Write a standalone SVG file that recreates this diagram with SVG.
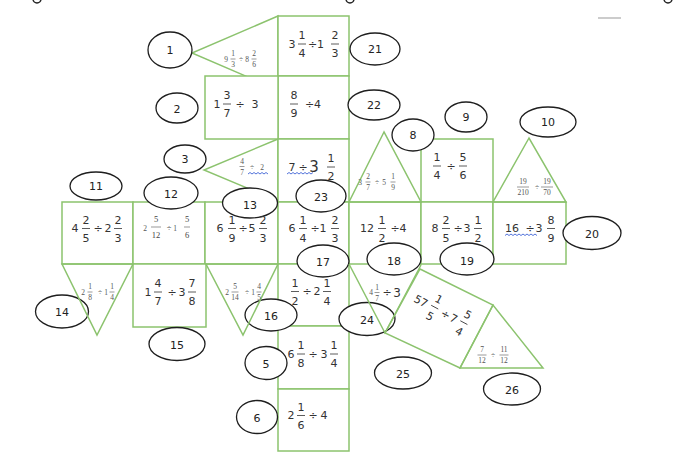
<svg xmlns="http://www.w3.org/2000/svg" width="690" height="467" viewBox="0 0 690 467">
<style>
.sh{fill:none;stroke:#8cc36e;stroke-width:1.5}
.bx{fill:#fff;stroke:#8cc36e;stroke-width:1.5}
.el{fill:#fff;stroke:#1e1e1e;stroke-width:1.3}
.eln{fill:none;stroke:#1e1e1e;stroke-width:1.3}
.lt{font-family:"DejaVu Sans",Verdana,sans-serif;font-size:11px;fill:#222;text-anchor:middle}
.m{font-family:"DejaVu Sans",Verdana,sans-serif;font-size:11px;fill:#333;text-anchor:middle}
.s{font-family:"Liberation Serif","DejaVu Serif",serif;font-size:7.5px;fill:#555;text-anchor:middle}
.s8{font-family:"Liberation Serif","DejaVu Serif",serif;font-size:8.5px;fill:#444;text-anchor:middle}
.b{stroke:#333;stroke-width:0.8}
.bs{stroke:#555;stroke-width:0.6}
.wv{fill:none;stroke:#3f63d6;stroke-width:0.9}
</style>

<!-- page decorations -->
<g id="handles" fill="none" stroke="#222" stroke-width="1.4">
<circle cx="37" cy="-1" r="4"/>
<circle cx="350" cy="-1" r="4"/>
<circle cx="668" cy="-1" r="4"/>
<line x1="598" y1="18" x2="621" y2="18" stroke="#aaa" stroke-width="1.2"/>
</g>

<!-- triangles behind boxes -->
<g id="tri1"><polygon class="sh" points="278,16 192,53 278,90"/></g>
<g id="tri3"><polygon class="sh" points="278,139 204,170 278,201"/></g>

<!-- boxes -->
<g id="box21"><rect class="bx" x="278" y="16" width="71" height="60"/></g>
<g id="box22"><rect class="bx" x="278" y="76" width="71" height="63"/></g>
<g id="box2"><rect class="bx" x="205" y="76" width="73" height="63"/></g>
<g id="box23"><rect class="bx" x="278" y="139" width="71" height="63"/></g>
<g id="box9"><rect class="bx" x="421" y="139" width="72" height="63"/></g>
<g id="box11"><rect class="bx" x="62" y="202" width="71" height="62"/></g>
<g id="box12"><rect class="bx" x="133" y="202" width="72" height="62"/></g>
<g id="box13"><rect class="bx" x="205" y="202" width="73" height="62"/></g>
<g id="box17top"><rect class="bx" x="278" y="202" width="71" height="62"/></g>
<g id="box18"><rect class="bx" x="349" y="202" width="72" height="62"/></g>
<g id="box19"><rect class="bx" x="421" y="202" width="72" height="62"/></g>
<g id="box20"><rect class="bx" x="493" y="202" width="73" height="62"/></g>
<g id="box15"><rect class="bx" x="133" y="264" width="73" height="63"/></g>
<g id="box17"><rect class="bx" x="278" y="264" width="71" height="62"/></g>
<g id="box5"><rect class="bx" x="278" y="326" width="71" height="63"/></g>
<g id="box6"><rect class="bx" x="278" y="389" width="71" height="62"/></g>

<!-- label ellipses (opaque) -->
<g id="lab1"><ellipse class="el" cx="170" cy="50" rx="22" ry="18"/><text class="lt" x="170" y="54">1</text></g>
<g id="lab2"><ellipse class="el" cx="177" cy="108" rx="21" ry="15"/><text class="lt" x="177" y="113">2</text></g>
<g id="lab3"><ellipse class="el" cx="185" cy="159" rx="21" ry="14"/><text class="lt" x="185" y="163">3</text></g>
<g id="lab5"><ellipse class="el" cx="266" cy="363" rx="21" ry="16.5"/><text class="lt" x="266" y="368">5</text></g>
<g id="lab6"><ellipse class="el" cx="257" cy="417" rx="20.5" ry="16.5"/><text class="lt" x="257" y="422">6</text></g>
<g id="lab8"><ellipse class="el" cx="413" cy="135" rx="21" ry="16"/><text class="lt" x="413" y="139">8</text></g>
<g id="lab9"><ellipse class="el" cx="466" cy="117" rx="21" ry="15"/><text class="lt" x="466" y="121">9</text></g>
<g id="lab10"><ellipse class="el" cx="548" cy="122" rx="28" ry="15"/><text class="lt" x="548" y="126">10</text></g>
<g id="lab11"><ellipse class="el" cx="96" cy="186" rx="26" ry="14"/><text class="lt" x="96" y="190">11</text></g>
<g id="lab12"><ellipse class="el" cx="171" cy="193" rx="27" ry="16"/><text class="lt" x="171" y="198">12</text></g>
<g id="lab13"><ellipse class="el" cx="250" cy="203" rx="27.5" ry="15"/><text class="lt" x="250" y="209">13</text></g>
<g id="lab15"><ellipse class="el" cx="177" cy="344" rx="28" ry="16.5"/><text class="lt" x="177" y="349">15</text></g>
<g id="lab17"><ellipse class="el" cx="323" cy="261" rx="26" ry="16"/><text class="lt" x="323" y="266">17</text></g>
<g id="lab18"><ellipse class="el" cx="394" cy="259" rx="27" ry="16"/><text class="lt" x="394" y="265">18</text></g>
<g id="lab19"><ellipse class="el" cx="467" cy="259" rx="27" ry="16"/><text class="lt" x="467" y="265">19</text></g>
<g id="lab20"><ellipse class="el" cx="592" cy="233" rx="29" ry="16.5"/><text class="lt" x="592" y="238">20</text></g>
<g id="lab21"><ellipse class="el" cx="375" cy="49" rx="25" ry="16"/><text class="lt" x="375" y="53">21</text></g>
<g id="lab22"><ellipse class="el" cx="374" cy="105" rx="26" ry="15"/><text class="lt" x="374" y="109">22</text></g>
<g id="lab23"><ellipse class="el" cx="321" cy="196" rx="25" ry="16"/><text class="lt" x="321" y="201">23</text></g>
<g id="lab25"><ellipse class="el" cx="403" cy="373" rx="28.5" ry="16"/><text class="lt" x="403" y="378">25</text></g>
<g id="lab26"><ellipse class="el" cx="512" cy="389" rx="28.5" ry="16"/><text class="lt" x="512" y="394">26</text></g>
<g id="lab14"><ellipse class="el" cx="62" cy="311.5" rx="26.5" ry="16.5"/><text class="lt" x="62" y="316">14</text></g>
<g id="lab16"><ellipse class="el" cx="271" cy="315" rx="26" ry="16"/><text class="lt" x="271" y="320">16</text></g>
<g id="lab24"><ellipse class="el" cx="367" cy="319" rx="28" ry="16.5"/><text class="lt" x="367" y="324">24</text></g>

<!-- front shapes -->
<g id="tri8"><polygon class="sh" points="384,132 349,202 421,202"/></g>
<g id="tri10"><polygon class="sh" points="529,138 493,202 566,202"/></g>
<g id="tri14"><polygon class="sh" points="62,264 133,264 97,335"/></g>
<g id="tri16"><polygon class="sh" points="206,264 278,264 243,335"/></g>
<g id="tri24"><polyline class="sh" points="349,264 385,333 421,265"/></g>
<g id="para25"><polygon class="sh" points="420,269 493,305 460,368 385,333"/></g>
<g id="tri26"><polygon class="sh" points="493,305 460,368 543,368"/></g>

<!-- expressions -->
<g id="t1">
<text class="s" x="226" y="61.5">9</text>
<text class="s" x="233" y="56">1</text><line class="bs" x1="230.5" y1="59" x2="235.5" y2="59"/><text class="s" x="233" y="67">3</text>
<text class="s" x="241" y="61.5">÷</text><text class="s" x="247" y="61.5">8</text>
<text class="s" x="254" y="56">2</text><line class="bs" x1="251.5" y1="59" x2="256.5" y2="59"/><text class="s" x="254" y="67">6</text>
</g>
<g id="t21">
<text class="m" x="292" y="47.5">3</text>
<text class="m" x="302" y="39">1</text><line class="b" x1="298" y1="44" x2="306" y2="44"/><text class="m" x="302" y="57">4</text>
<text class="m" x="316" y="47.5">÷1</text>
<text class="m" x="335" y="39">2</text><line class="b" x1="331" y1="44" x2="339" y2="44"/><text class="m" x="335" y="57">3</text>
</g>
<g id="t2">
<text class="m" x="217" y="107.5">1</text>
<text class="m" x="227" y="99">3</text><line class="b" x1="223" y1="104" x2="231" y2="104"/><text class="m" x="227" y="117">7</text>
<text class="m" x="240" y="107.5">÷</text><text class="m" x="255" y="107.5">3</text>
</g>
<g id="t22">
<text class="m" x="294" y="99">8</text><line class="b" x1="290" y1="104" x2="298" y2="104"/><text class="m" x="294" y="117">9</text>
<text class="m" x="313" y="107.5">÷4</text>
</g>
<g id="t3">
<text class="s" x="242" y="163.5">4</text><line class="bs" x1="239.5" y1="166.5" x2="244.5" y2="166.5"/><text class="s" x="242" y="174.5">7</text>
<text class="s" x="252" y="169.5">÷</text><text class="s" x="262" y="169.5">2</text>
<path class="wv" d="M248,174 l2,-1.5 l2,1.5 l2,-1.5 l2,1.5 l2,-1.5 l2,1.5 l2,-1.5 l2,1.5 l2,-1.5 l2,1.5"/>
</g>
<g id="t23">
<text class="m" x="292" y="171">7</text>
<text class="m" x="303" y="171">÷</text>
<text class="m" x="314" y="172" style="font-size:15px">3</text>
<text class="m" x="331" y="162">1</text><line class="b" x1="327" y1="167" x2="335" y2="167"/><text class="m" x="331" y="180">2</text>
<path class="wv" d="M287,174 l2,-1.5 l2,1.5 l2,-1.5 l2,1.5 l2,-1.5 l2,1.5 l2,-1.5 l2,1.5 l2,-1.5 l2,1.5 l2,-1.5 l2,1.5 l2,-1.5"/>
</g>
<g id="t8">
<text class="s" x="360" y="184.5">3</text>
<text class="s" x="368" y="179">2</text><line class="bs" x1="365.5" y1="182" x2="370.5" y2="182"/><text class="s" x="368" y="190">7</text>
<text class="s" x="377" y="184.5">÷</text><text class="s" x="384" y="184.5">5</text>
<text class="s" x="393" y="179">1</text><line class="bs" x1="390.5" y1="182" x2="395.5" y2="182"/><text class="s" x="393" y="190">9</text>
</g>
<g id="t9">
<text class="m" x="437" y="161">1</text><line class="b" x1="433" y1="166" x2="441" y2="166"/><text class="m" x="437" y="179">4</text>
<text class="m" x="451" y="169.5">÷</text>
<text class="m" x="463" y="161">5</text><line class="b" x1="459" y1="166" x2="467" y2="166"/><text class="m" x="463" y="179">6</text>
</g>
<g id="t10">
<text class="s" x="523" y="184">19</text><line class="bs" x1="517" y1="187" x2="529" y2="187"/><text class="s" x="523" y="195">210</text>
<text class="s" x="537" y="189.5">÷</text>
<text class="s" x="547" y="184">19</text><line class="bs" x1="541" y1="187" x2="553" y2="187"/><text class="s" x="547" y="195">70</text>
</g>
<g id="t11">
<text class="m" x="75" y="232">4</text>
<text class="m" x="86" y="223.5">2</text><line class="b" x1="82" y1="228.5" x2="90" y2="228.5"/><text class="m" x="86" y="241.5">5</text>
<text class="m" x="98" y="232">÷</text><text class="m" x="108" y="232">2</text>
<text class="m" x="118" y="223.5">2</text><line class="b" x1="114" y1="228.5" x2="122" y2="228.5"/><text class="m" x="118" y="241.5">3</text>
</g>
<g id="t12">
<text class="s" x="145" y="230.5">2</text>
<text class="s8" x="156" y="222">5</text><line class="bs" x1="151" y1="227" x2="161" y2="227"/><text class="s8" x="156" y="238">12</text>
<text class="s8" x="169" y="230.5">÷</text><text class="s" x="175" y="230.5">1</text>
<text class="s8" x="187" y="222">5</text><line class="bs" x1="184" y1="227" x2="190" y2="227"/><text class="s8" x="187" y="238">6</text>
</g>
<g id="t13">
<text class="m" x="220" y="232">6</text>
<text class="m" x="232" y="223.5">1</text><line class="b" x1="228" y1="228.5" x2="236" y2="228.5"/><text class="m" x="232" y="241.5">9</text>
<text class="m" x="243" y="232">÷</text><text class="m" x="252" y="232">5</text>
<text class="m" x="263" y="223.5">2</text><line class="b" x1="259" y1="228.5" x2="267" y2="228.5"/><text class="m" x="263" y="241.5">3</text>
</g>
<g id="t17top">
<text class="m" x="292" y="232">6</text>
<text class="m" x="303" y="223.5">1</text><line class="b" x1="299" y1="228.5" x2="307" y2="228.5"/><text class="m" x="303" y="241.5">4</text>
<text class="m" x="315" y="232">÷</text><text class="m" x="323" y="232">1</text>
<text class="m" x="335" y="223.5">2</text><line class="b" x1="331" y1="228.5" x2="339" y2="228.5"/><text class="m" x="335" y="241.5">3</text>
</g>
<g id="t18">
<text class="m" x="367" y="232">12</text>
<text class="m" x="382" y="223.5">1</text><line class="b" x1="378" y1="228.5" x2="386" y2="228.5"/><text class="m" x="382" y="241.5">2</text>
<text class="m" x="395" y="232">÷</text><text class="m" x="403" y="232">4</text>
</g>
<g id="t19">
<text class="m" x="435" y="232">8</text>
<text class="m" x="446" y="223.5">2</text><line class="b" x1="442" y1="228.5" x2="450" y2="228.5"/><text class="m" x="446" y="241.5">5</text>
<text class="m" x="458" y="232">÷</text><text class="m" x="467" y="232">3</text>
<text class="m" x="478" y="223.5">1</text><line class="b" x1="474" y1="228.5" x2="482" y2="228.5"/><text class="m" x="478" y="241.5">2</text>
</g>
<g id="t20">
<text class="m" x="512" y="232">16</text>
<text class="m" x="530" y="232">÷</text><text class="m" x="539" y="232">3</text>
<text class="m" x="551" y="223.5">8</text><line class="b" x1="547" y1="228.5" x2="555" y2="228.5"/><text class="m" x="551" y="241.5">9</text>
<path class="wv" d="M505,235.5 l2,-1.5 l2,1.5 l2,-1.5 l2,1.5 l2,-1.5 l2,1.5 l2,-1.5 l2,1.5 l2,-1.5 l2,1.5 l2,-1.5 l2,1.5 l2,-1.5 l2,1.5 l2,-1.5 l2,1.5"/>
</g>
<g id="t14">
<text class="s" x="83" y="294.5">2</text>
<text class="s" x="90" y="289">1</text><line class="bs" x1="87.5" y1="292" x2="92.5" y2="292"/><text class="s" x="90" y="300">8</text>
<text class="s" x="100" y="294.5">÷</text><text class="s" x="106" y="294.5">1</text>
<text class="s" x="112" y="289">1</text><line class="bs" x1="109.5" y1="292" x2="114.5" y2="292"/><text class="s" x="112" y="300">4</text>
</g>
<g id="t15">
<text class="m" x="148" y="295.5">1</text>
<text class="m" x="158" y="287">4</text><line class="b" x1="154" y1="292" x2="162" y2="292"/><text class="m" x="158" y="305">7</text>
<text class="m" x="172" y="295.5">÷</text><text class="m" x="182" y="295.5">3</text>
<text class="m" x="192" y="287">7</text><line class="b" x1="188" y1="292" x2="196" y2="292"/><text class="m" x="192" y="305">8</text>
</g>
<g id="t16">
<text class="s" x="227" y="294.5">2</text>
<text class="s" x="235" y="289">5</text><line class="bs" x1="231.5" y1="292" x2="238.5" y2="292"/><text class="s" x="235" y="300">14</text>
<text class="s" x="247" y="294.5">÷</text><text class="s" x="253" y="294.5">1</text>
<text class="s" x="259" y="289">4</text><line class="bs" x1="256.5" y1="292" x2="261.5" y2="292"/><text class="s" x="259" y="300">5</text>
</g>
<g id="t17">
<text class="m" x="295" y="286.5">1</text><line class="b" x1="291" y1="291.5" x2="299" y2="291.5"/><text class="m" x="295" y="304.5">2</text>
<text class="m" x="307" y="295">÷</text><text class="m" x="317" y="295">2</text>
<text class="m" x="327" y="286.5">1</text><line class="b" x1="323" y1="291.5" x2="331" y2="291.5"/><text class="m" x="327" y="304.5">4</text>
</g>
<g id="t24">
<text class="s" x="371" y="295">4</text>
<text class="s" x="377" y="289.5">1</text><line class="bs" x1="374.5" y1="292.5" x2="379.5" y2="292.5"/><text class="s" x="377" y="300.5">7</text>
<text class="m" x="387" y="296">÷</text><text class="m" x="397" y="296.5" style="font-size:12px">3</text>
</g>
<g id="t25" transform="translate(421,301) rotate(28)">
<text class="m" x="0" y="4">57</text>
<text class="m" x="15" y="-6">1</text><line class="b" x1="11" y1="-1" x2="19" y2="-1"/><text class="m" x="15" y="13">5</text>
<text class="m" x="28" y="4">÷</text><text class="m" x="37" y="4">7</text>
<text class="m" x="48" y="-6">5</text><line class="b" x1="44" y1="-1" x2="52" y2="-1"/><text class="m" x="48" y="13">4</text>
</g>
<g id="t26">
<text class="s" x="482" y="352">7</text><line class="bs" x1="477.5" y1="355" x2="486.5" y2="355"/><text class="s" x="482" y="363">12</text>
<text class="s" x="493" y="357.5">÷</text>
<text class="s" x="504" y="352">11</text><line class="bs" x1="499.5" y1="355" x2="508.5" y2="355"/><text class="s" x="504" y="363">12</text>
</g>
<g id="t5">
<text class="m" x="291" y="357.5">6</text>
<text class="m" x="301" y="349">1</text><line class="b" x1="297" y1="354" x2="305" y2="354"/><text class="m" x="301" y="367">8</text>
<text class="m" x="313" y="357.5">÷</text><text class="m" x="324" y="357.5">3</text>
<text class="m" x="334" y="349">1</text><line class="b" x1="330" y1="354" x2="338" y2="354"/><text class="m" x="334" y="367">4</text>
</g>
<g id="t6">
<text class="m" x="291" y="419">2</text>
<text class="m" x="301" y="410.5">1</text><line class="b" x1="297" y1="415.5" x2="305" y2="415.5"/><text class="m" x="301" y="428.5">6</text>
<text class="m" x="313" y="419">÷</text><text class="m" x="324" y="419">4</text>
</g>
</svg>
